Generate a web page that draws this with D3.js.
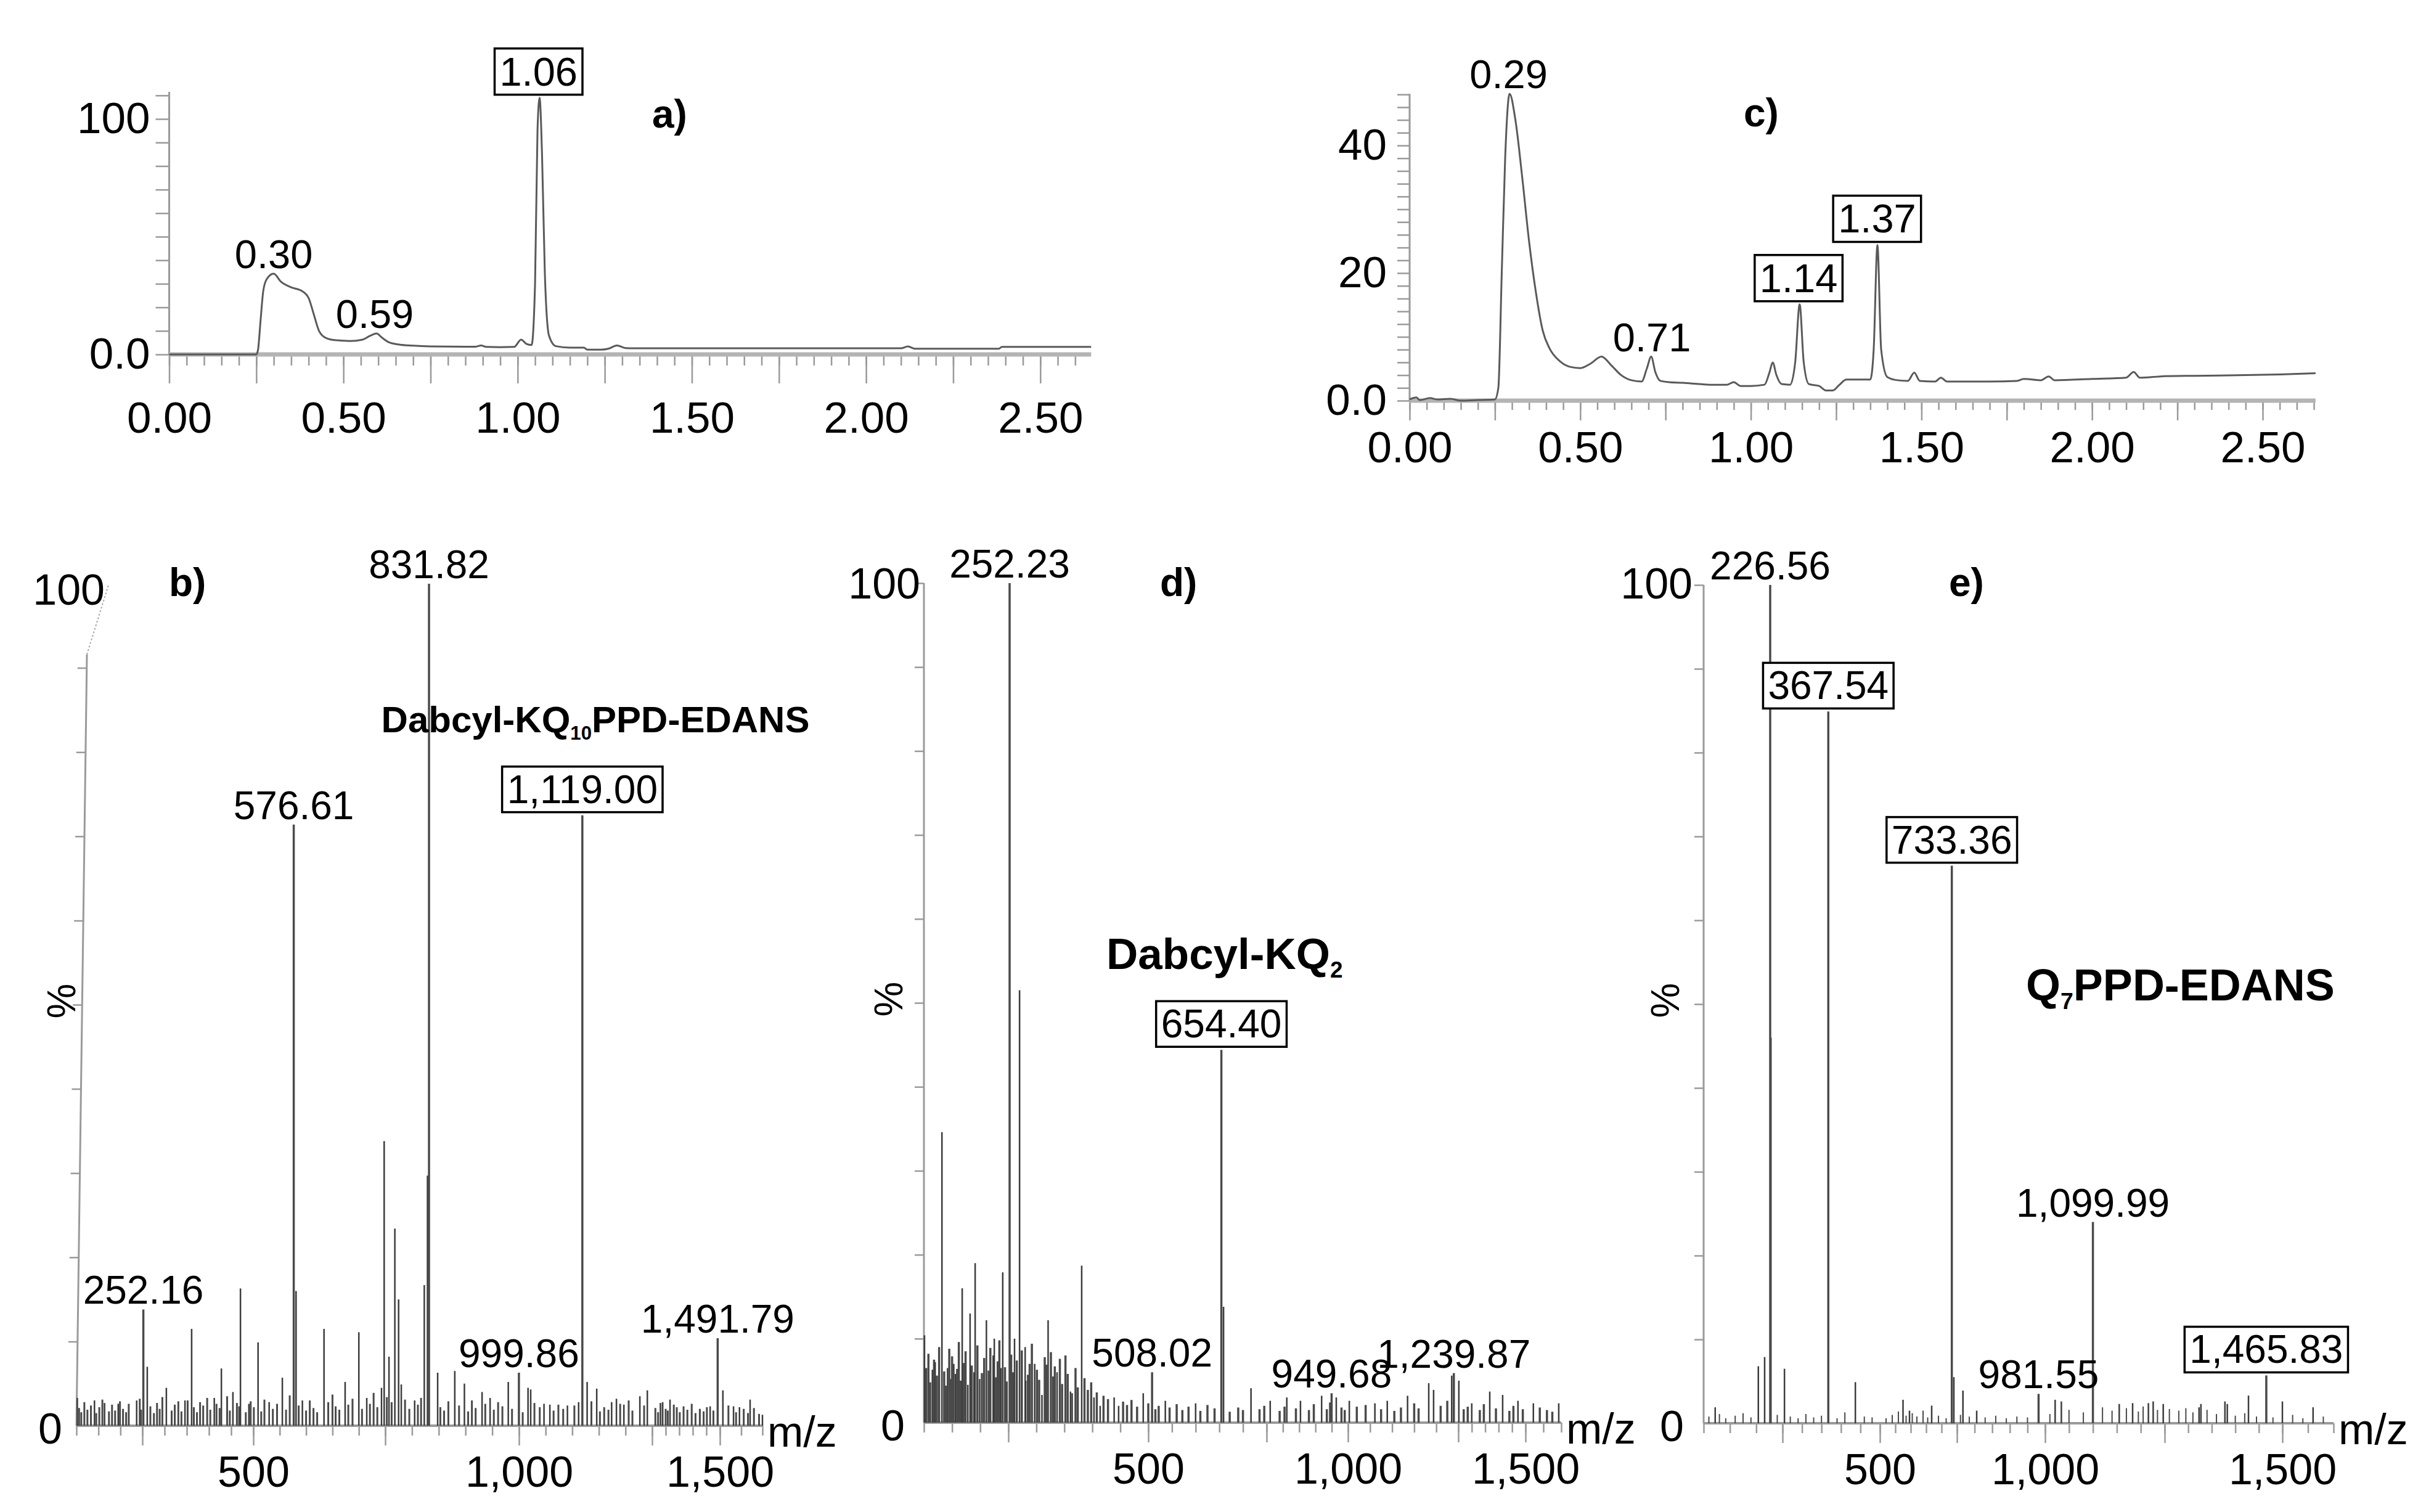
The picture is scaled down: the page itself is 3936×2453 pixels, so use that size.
<!DOCTYPE html>
<html><head><meta charset="utf-8">
<script src="https://cdn.jsdelivr.net/npm/d3@7/dist/d3.min.js"></script>
<style>html,body{margin:0;padding:0;background:#fff;} svg{display:block;}</style>
</head><body>
<script>
// ================= DATA =================
// Panel a) chromatogram (time, min ; intensity)
const aTimes=[0,0.25,0.255,0.262,0.27,0.28,0.30,0.32,0.35,0.38,0.40,0.415,0.43,0.45,0.48,0.52,0.555,0.575,0.595,0.61,0.63,0.66,0.70,0.75,0.85,0.88,0.895,0.91,0.95,0.99,1.01,1.025,1.04,1.05,1.057,1.063,1.07,1.078,1.09,1.11,1.15,1.19,1.2,1.24,1.26,1.285,1.31,1.33,1.6,2.1,2.12,2.14,2.38,2.39,2.646];
const aValues=[0,0,2,14,27,32,34.3,31,28.5,27,24,17,10,7,6,5.7,6.3,7.8,8.9,7.2,5.2,4.2,3.7,3.4,3.3,3.3,3.8,3.2,3.1,3.2,6.3,4.5,4,30,95,109,85,35,8,3.5,2.9,2.9,2.0,2.0,2.4,3.8,2.7,2.6,2.6,2.6,3.4,2.4,2.4,3.2,3.2];
const aLabelTimes=[0.30,0.59,1.06];
const aLabelValues=[34.3,8.9,109];
const aLabelTexts=["0.30","0.59","1.06"];
const aLabelBoxed=[false,false,true];
const aYLabelValues=[0,100];
const aYLabelTexts=["0.0","100"];

// Panel c) chromatogram
const cTimes=[0,0.02,0.03,0.06,0.08,0.12,0.15,0.2,0.25,0.26,0.27,0.28,0.293,0.31,0.33,0.35,0.37,0.39,0.41,0.44,0.47,0.50,0.53,0.5625,0.59,0.62,0.65,0.68,0.695,0.708,0.72,0.735,0.76,0.80,0.85,0.88,0.93,0.95,0.97,1.00,1.04,1.055,1.064,1.075,1.09,1.115,1.13,1.143,1.155,1.17,1.20,1.22,1.24,1.26,1.28,1.35,1.36,1.371,1.382,1.40,1.43,1.46,1.479,1.495,1.54,1.557,1.575,1.70,1.78,1.80,1.85,1.873,1.89,2.0,2.10,2.122,2.14,2.2,2.3,2.45,2.55,2.655];
const cValues=[0.2,0.5,0.1,0.4,0.2,0.3,0,0.1,0.2,2,20,38,48.1,44,35,25,17,11,8.2,6.2,5.3,5.1,5.8,6.9,5.6,4.0,3.2,3.0,5.0,6.9,4.5,3.1,2.9,2.8,2.6,2.5,2.5,2.9,2.3,2.3,2.5,4.5,6.0,4.0,2.6,2.5,6,15.1,6,2.6,2.3,1.6,1.6,2.5,3.3,3.3,8,24.4,8,3.7,3.2,3.1,4.4,3.1,3.0,3.6,3.0,3.0,3.1,3.4,3.2,3.8,3.2,3.4,3.6,4.5,3.6,3.8,3.9,4.0,4.1,4.3];
const cLabelTimes=[0.29,0.71,1.14,1.37];
const cLabelValues=[48.1,6.9,15.1,24.4];
const cLabelTexts=["0.29","0.71","1.14","1.37"];
const cLabelBoxed=[false,false,true,true];
const cYLabelValues=[0,20,40];
const cYLabelTexts=["0.0","20","40"];

const chromXTickLabels=[0,0.5,1.0,1.5,2.0,2.5];

// Panel b) mass spectrum
const bPeakMz=[102,141,164,195,237,261,304,346,361,412,428,454,471,490,509,530,555,581,593,634,674,700,715,743,748,757,768,775,780,805,823,829,848,880,898,931,946,980,1017,1022,1047,1058,1091,1112,1128,1146,1174,1183,1197,1227,1241,1289,1316,1464,1507,1532,1546,1571,1600];
const bPeakPct=[3.3,3.0,2.7,2.6,3.0,7.0,4.5,3.0,11.5,3.3,6.8,4.0,16.3,2.6,9.9,2.8,5.7,16.0,3.0,11.5,5.2,11.1,3.3,4.5,33.8,8.2,23.4,15.0,4.9,3.0,16.7,29.7,6.3,6.5,5.0,4.0,3.3,5.2,4.5,4.3,2.6,2.5,2.4,2.8,5.2,4.4,2.8,3.2,2.5,3.5,4.2,2.8,3.1,2.3,4.2,2.3,2.2,3.1,1.3];
const bNoiseMz=[106,111,118,125,133,145,152,159,174,181,188,199,206,213,219,244,247,268,276,283,289,295,316,323,331,338,352,366,373,380,387,396,403,417,424,441,447,463,468,483,494,501,515,521,537,545,562,569,586,600,607,614,621,642,650,656,663,680,688,706,721,728,735,753,762,787,795,811,817,853,860,868,888,905,912,919,937,953,961,969,987,1007,1029,1039,1065,1074,1083,1104,1136,1152,1160,1168,1190,1206,1213,1235,1262,1272,1281,1300,1308,1330,1341,1352,1366,1380,1396,1410,1426,1440,1452,1476,1520,1538,1556,1566,1580,1592];
const bNoisePct=[2.1,1.6,2.8,1.9,2.4,1.5,2.2,3.1,1.7,2.5,1.8,2.9,2.0,1.6,2.6,3.2,1.9,2.3,1.5,2.7,2.0,3.4,1.8,2.5,2.9,1.7,3.0,2.2,1.6,2.8,2.4,3.3,1.9,2.6,2.1,3.5,1.8,2.7,2.3,1.6,2.9,2.2,1.7,3.1,2.0,2.6,1.9,3.6,2.4,1.8,3.0,2.1,1.6,2.8,3.7,2.3,1.9,2.5,3.2,2.0,2.6,3.9,2.2,3.4,2.8,3.1,2.0,2.5,3.3,2.2,1.8,2.9,2.4,1.7,3.0,2.1,2.6,1.9,2.8,2.3,2.0,1.6,2.7,2.2,1.8,2.5,2.0,2.4,2.9,1.7,2.2,1.9,2.6,3.0,1.8,2.4,2.1,1.6,2.7,2.0,1.8,2.5,2.2,1.6,2.3,1.9,2.6,1.5,2.0,1.7,2.2,1.8,2.4,1.6,2.0,1.5,2.1,1.4];
const bLabelMz=[252.16,576.61,831.82,999.86,1119.00,1491.79];
const bLabelPct=[13.8,71.4,100,6.3,72.5,10.4];
const bLabelTexts=["252.16","576.61","831.82","999.86","1,119.00","1,491.79"];
const bLabelBoxed=[false,false,false,false,true,false];
const bCompound=["Dabcyl-KQ","10","PPD-EDANS"];

// Panel d) mass spectrum
const dPeakMz=[101,115,120,132,142,153,156,168,178,182,189,191,199,211,223,225,237,240,261,270,280,281,297,310,321,337,361,364,381,403,414,439,447,491,536,600,659,717,761,812,854,919,964,1003,1061,1089,1135,1183,1194,1235,1252,1300,1367,1415,1472,1522,1593];
const dPeakPct=[10.4,6.3,7.2,34.6,6.5,7.0,5.8,16.0,4.5,13.0,6.0,19.0,5.2,12.2,8.0,10.0,6.5,17.9,10.0,51.5,9.0,5.0,7.0,3.3,12.2,6.0,3.7,3.5,18.7,3.0,2.0,3.0,2.0,3.5,2.6,2.3,13.8,4.1,2.6,3.0,2.6,3.2,3.0,2.6,2.3,2.6,3.2,4.7,3.9,5.6,5.0,2.3,3.7,3.3,2.6,2.3,2.3];
const dNoiseMz=[104,108,111,118,123,127,136,139,145,148,150,159,162,165,171,174,185,195,203,207,215,218,228,231,234,244,247,255,258,265,274,285,288,292,301,305,315,318,326,330,333,342,346,352,356,370,374,386,392,398,408,420,428,455,462,470,480,500,515,522,545,560,572,585,610,625,640,672,690,700,735,745,790,805,840,880,895,935,945,980,990,1020,1040,1075,1105,1120,1150,1160,1210,1225,1270,1285,1330,1345,1390,1440,1455,1490,1540,1560,1575];
const dNoisePct=[6.5,8.2,4.8,7.5,5.6,9.0,6.1,4.4,8.8,5.2,7.9,6.4,9.6,5.0,7.1,8.5,6.8,9.2,5.9,7.7,6.2,8.9,5.4,7.3,9.8,6.6,4.9,8.1,6.0,7.4,8.6,5.7,7.0,9.4,6.3,5.1,7.8,6.9,8.4,5.5,6.7,7.6,4.6,8.0,5.8,6.5,4.2,5.3,3.9,4.8,3.6,3.2,2.8,2.5,2.1,2.7,1.9,2.3,1.6,2.0,1.8,2.2,1.5,1.9,1.4,2.1,1.7,1.3,1.8,1.5,1.6,2.0,1.4,1.9,1.7,1.5,2.2,1.6,2.4,1.8,1.5,1.9,2.1,1.6,1.4,1.8,2.3,1.7,2.0,2.6,1.6,1.9,1.5,2.2,1.7,1.4,2.0,1.6,1.8,1.5,1.3];
const dLabelMz=[252.23,508.02,654.40,949.68,1239.87];
const dLabelPct=[100,6.0,44.4,3.5,5.9];
const dLabelTexts=["252.23","508.02","654.40","949.68","1,239.87"];
const dLabelBoxed=[false,false,true,false,false];
const dCompound=["Dabcyl-KQ","2",""];

// Panel e) mass spectrum
const ePeakMz=[122,204,216,228,255,437,575,596,668,740,767,806,1021,1034,1155,1183,1216,1226,1247,1323,1327,1378,1383,1428,1500,1560];
const ePeakPct=[1.9,6.8,7.9,46,6.5,4.9,2.8,1.5,2.1,5.5,3.9,1.5,2.8,2.6,2.3,2.4,2.4,2.6,2.3,1.9,2.3,2.6,2.3,3.3,2.6,1.9];
const eNoiseMz=[110,130,142,160,175,190,240,270,290,310,330,350,390,410,460,480,520,540,560,585,605,620,640,655,690,715,760,785,830,860,890,920,950,1010,1050,1080,1120,1140,1170,1195,1205,1235,1260,1280,1295,1310,1340,1360,1400,1420,1445,1480,1520,1540,1580];
const eNoisePct=[0.8,1.1,0.6,0.9,1.2,0.7,1.0,0.8,0.6,1.1,0.7,0.9,0.6,1.3,0.8,0.7,0.6,1.0,1.4,0.9,1.2,0.8,1.5,0.7,0.9,0.6,1.0,0.8,0.7,0.9,0.6,0.8,0.7,1.1,1.6,1.3,1.9,1.5,1.8,1.4,2.0,1.6,1.7,1.5,1.8,1.3,1.6,1.1,0.9,1.2,0.8,0.7,1.0,0.6,0.8];
const eLabelMz=[226.56,367.54,733.36,981.55,1099.99,1465.83];
const eLabelPct=[100,84.9,66.5,3.5,24.0,5.7];
const eLabelTexts=["226.56","367.54","733.36","981.55","1,099.99","1,465.83"];
const eLabelBoxed=[false,true,true,false,false,true];
const eCompound=["Q","7","PPD-EDANS"];

// Spectrum axis tick values (m/z)
const specAxisMz=[100,250,500,750,1000,1250,1500,1600];
const specMajorTicks=[250,500,750,1000,1250,1500];
const specTickLabels=[500,1000,1500];

// ================= DRAWING =================
const FONT='"Liberation Sans", Arial, Helvetica, sans-serif';
const svg=d3.select('body').append('svg').attr('width',3936).attr('height',2453)
  .style('background','#fff').attr('font-family',FONT);

const AXIS_COL='#9a9a9a';

function labelPeak(g,xp,yp,txt,boxed,size){
  const lg=g.append('g');
  if(boxed){
    const rect=lg.append('rect');
    const t=lg.append('text').attr('x',xp).attr('y',yp-20).attr('text-anchor','middle')
      .attr('font-size',size).attr('fill','#000').text(txt);
    const bb=t.node().getBBox();
    rect.attr('x',bb.x-8).attr('y',bb.y-1).attr('width',bb.width+16).attr('height',bb.height+2)
      .attr('fill','#fff').attr('stroke','#000').attr('stroke-width',3.5);
  } else {
    lg.append('text').attr('x',xp).attr('y',yp-9).attr('text-anchor','middle')
      .attr('font-size',size).attr('fill','#000').text(txt);
  }
}

function drawChrom(L,times,values,labT,labV,labTxt,labBox,yLabVals,yLabTxt){
  const x=d3.scaleLinear().domain([0,2.5]).range([L.x0,L.x25]);
  const y=d3.scaleLinear().domain([0,L.refV]).range([L.yBase,L.yRef]);
  const g=svg.append('g');
  const minor=d3.range(0,L.tEnd+1e-9,0.05);
  const gx1=g.append('g').attr('transform',`translate(0,${L.yBase})`)
    .call(d3.axisBottom(x).tickValues(minor).tickSize(L.minorLen).tickSizeOuter(0).tickFormat(''));
  gx1.select('.domain').remove();
  gx1.selectAll('line').attr('stroke',AXIS_COL).attr('stroke-width',2.5);
  const major=d3.range(0,L.tEnd+1e-9,0.25);
  const gx2=g.append('g').attr('transform',`translate(0,${L.yBase})`)
    .call(d3.axisBottom(x).tickValues(major).tickSize(L.majorLen).tickPadding(L.xPad).tickSizeOuter(0)
      .tickFormat(d=>chromXTickLabels.some(v=>Math.abs(v-d)<1e-6)?d3.format('.2f')(d):''));
  gx2.select('.domain').remove();
  gx2.selectAll('line').attr('stroke',AXIS_COL).attr('stroke-width',2.5);
  gx2.attr('font-size',71).attr('font-family',FONT);
  gx2.selectAll('text').attr('fill','#000');
  const yt=d3.range(0,L.vTop+1e-9,L.yStep);
  const gy=g.append('g').attr('transform',`translate(${L.x0},0)`)
    .call(d3.axisLeft(y).tickValues(yt).tickSize(L.yTickLen).tickPadding(L.yPad).tickSizeOuter(0)
      .tickFormat(d=>{const i=yLabVals.indexOf(d);return i>=0?yLabTxt[i]:'';}));
  gy.select('.domain').remove();
  gy.selectAll('line').attr('stroke',AXIS_COL).attr('stroke-width',2.5);
  gy.attr('font-size',71).attr('font-family',FONT);
  gy.selectAll('text').attr('fill','#000');
  g.append('line').attr('x1',x(0)).attr('x2',x(0)).attr('y1',y(0)).attr('y2',y(L.vTop))
    .attr('stroke',AXIS_COL).attr('stroke-width',3);
  g.append('line').attr('x1',x(0)).attr('x2',x(L.tEnd)).attr('y1',y(0)).attr('y2',y(0))
    .attr('stroke','#b4b4b4').attr('stroke-width',7);
  const line=d3.line().x(d=>x(d[0])).y(d=>y(d[1])).curve(d3.curveMonotoneX);
  g.append('path').datum(d3.zip(times,values)).attr('d',line)
    .attr('fill','none').attr('stroke','#5a5a5a').attr('stroke-width',3);
  labT.forEach((t,i)=>labelPeak(g,x(t),y(labV[i]),labTxt[i],labBox[i],65));
  g.append('text').attr('x',L.letterX).attr('y',L.letterY).attr('font-size',64).attr('font-weight','bold')
    .attr('fill','#000').text(L.letter);
}

drawChrom({x0:274.5,x25:1687.8,tEnd:2.646,yBase:575,yRef:193,refV:100,vTop:111.5,yStep:10,
  minorLen:18,majorLen:47,xPad:30,yTickLen:22,yPad:9,letter:'a)',letterX:1058,letterY:207},
  aTimes,aValues,aLabelTimes,aLabelValues,aLabelTexts,aLabelBoxed,aYLabelValues,aYLabelTexts);

drawChrom({x0:2287,x25:3671,tEnd:2.655,yBase:650,yRef:236,refV:40,vTop:48.1,yStep:2,
  minorLen:15,majorLen:32,xPad:18,yTickLen:20,yPad:17,letter:'c)',letterX:2829,letterY:205},
  cTimes,cValues,cLabelTimes,cLabelValues,cLabelTexts,cLabelBoxed,cYLabelValues,cYLabelTexts);

function drawSpectrum(L,D){
  const x=d3.scaleLinear().domain(specAxisMz).range(L.px);
  const y=d3.scaleLinear().domain([0,100]).range([L.yBase,L.y100]);
  const g=svg.append('g');
  const x0=x(specAxisMz[0]), xEnd=x(specAxisMz[specAxisMz.length-1]);
  const minor=d3.range(100,1601,50);
  const gx1=g.append('g').attr('transform',`translate(0,${L.yBase})`)
    .call(d3.axisBottom(x).tickValues(minor).tickSize(16).tickSizeOuter(0).tickFormat(''));
  gx1.select('.domain').remove();
  gx1.selectAll('line').attr('stroke',AXIS_COL).attr('stroke-width',2.5);
  const gx2=g.append('g').attr('transform',`translate(0,${L.yBase})`)
    .call(d3.axisBottom(x).tickValues(specMajorTicks).tickSize(32).tickPadding(17).tickSizeOuter(0)
      .tickFormat(d=>specTickLabels.includes(d)?d3.format(',')(d):''));
  gx2.select('.domain').remove();
  gx2.selectAll('line').attr('stroke',AXIS_COL).attr('stroke-width',2.5);
  gx2.attr('font-size',70).attr('font-family',FONT);
  gx2.selectAll('text').attr('fill','#000');
  const gy=g.append('g').attr('transform',`translate(${x0},${L.yBase}) skewX(${L.skew}) translate(0,${-L.yBase})`);
  gy.call(d3.axisLeft(y).tickValues(L.yTicks).tickSize(15).tickSizeOuter(0).tickFormat(''));
  gy.select('.domain').remove();
  gy.selectAll('line').attr('stroke',AXIS_COL).attr('stroke-width',2.5);
  gy.append('line').attr('x1',0).attr('x2',0).attr('y1',y(0)).attr('y2',y(L.axisTop))
    .attr('stroke',AXIS_COL).attr('stroke-width',3);
  if(L.diag){
    const topShift=Math.tan(L.skew*Math.PI/180)*(y(L.axisTop)-L.yBase);
    g.append('line').attr('x1',x0+topShift).attr('y1',y(L.axisTop)).attr('x2',x0+L.diag).attr('y2',y(100)+2)
      .attr('stroke','#aaa').attr('stroke-width',2).attr('stroke-dasharray','3,3');
  }
  g.append('line').attr('x1',x0).attr('x2',xEnd).attr('y1',y(0)).attr('y2',y(0))
    .attr('stroke',AXIS_COL).attr('stroke-width',4);
  g.append('g').selectAll('line').data(d3.zip(D.noiseMz,D.noisePct)).join('line')
    .attr('x1',d=>x(d[0])).attr('x2',d=>x(d[0])).attr('y1',y(0)).attr('y2',d=>y(d[1]))
    .attr('stroke','#4a4a4a').attr('stroke-width',L.noiseW);
  g.append('g').selectAll('line').data(d3.zip(D.peakMz,D.peakPct)).join('line')
    .attr('x1',d=>x(d[0])).attr('x2',d=>x(d[0])).attr('y1',y(0)).attr('y2',d=>y(d[1]))
    .attr('stroke','#3c3c3c').attr('stroke-width',2.5);
  g.append('g').selectAll('line').data(d3.zip(D.labMz,D.labPct)).join('line')
    .attr('x1',d=>x(d[0])).attr('x2',d=>x(d[0])).attr('y1',y(0)).attr('y2',d=>y(d[1]))
    .attr('stroke','#4a4a4a').attr('stroke-width',3.5);
  D.labMz.forEach((m,i)=>labelPeak(g,x(m),y(D.labPct[i]),D.labTxt[i],D.labBox[i],64));
  g.append('text').attr('x',x0+L.lab100dx).attr('y',y(100)+L.lab100dy+25).attr('text-anchor','end')
    .attr('font-size',70).attr('fill','#000').text('100');
  g.append('text').attr('x',x0+L.lab0dx).attr('y',y(0)+4+25).attr('text-anchor','end')
    .attr('font-size',70).attr('fill','#000').text('0');
  g.append('text').attr('transform',`translate(${x0+L.pctDx},${y(50)-6}) rotate(-90)`)
    .attr('text-anchor','middle').attr('dy','0.36em').attr('font-size',64).attr('fill','#000').text('%');
  g.append('text').attr('x',xEnd+8).attr('y',y(0)+34).attr('font-size',70).attr('fill','#000').text('m/z');
  g.append('text').attr('x',L.letterX).attr('y',L.letterY).attr('font-size',64).attr('font-weight','bold')
    .attr('fill','#000').text(L.letter);
  const F=L.compSize;
  const ct=g.append('text').attr('x',L.compX).attr('y',L.compY).attr('text-anchor',L.compAnchor)
    .attr('font-size',F).attr('font-weight','bold').attr('fill','#000');
  ct.append('tspan').text(D.compound[0]);
  ct.append('tspan').attr('font-size',F*0.52).attr('dy',F*0.2).text(D.compound[1]);
  if(D.compound[2]) ct.append('tspan').attr('font-size',F).attr('dy',-F*0.2).text(D.compound[2]);
}

drawSpectrum({px:[124,231,411,625,842,1058,1168,1237],yBase:2313,y100:947,skew:-0.779,axisTop:91.6,
  yTicks:[10,20,30,40,50,60,70,80,90],diag:52,lab100dx:46,lab100dy:9,lab0dx:-23,pctDx:-25,noiseW:3,
  letter:'b)',letterX:274,letterY:967,compSize:60,compX:966,compY:1188,compAnchor:'middle'},
  {peakMz:bPeakMz,peakPct:bPeakPct,noiseMz:bNoiseMz,noisePct:bNoisePct,labMz:bLabelMz,labPct:bLabelPct,
   labTxt:bLabelTexts,labBox:bLabelBoxed,compound:bCompound});

drawSpectrum({px:[1499,1636,1863,2055,2187,2366,2475,2533],yBase:2308,y100:946,skew:0,axisTop:100,
  yTicks:[10,20,30,40,50,60,70,80,90,100],diag:0,lab100dx:-6,lab100dy:0,lab0dx:-31,pctDx:-58,noiseW:3.5,
  letter:'d)',letterX:1882,letterY:967,compSize:71,compX:1795,compY:1572,compAnchor:'start'},
  {peakMz:dPeakMz,peakPct:dPeakPct,noiseMz:dNoiseMz,noisePct:dNoisePct,labMz:dLabelMz,labPct:dLabelPct,
   labTxt:dLabelTexts,labBox:dLabelBoxed,compound:dCompound});

drawSpectrum({px:[2764,2892,3050,3175,3318,3512,3703,3786],yBase:2309,y100:949,skew:0,axisTop:100,
  yTicks:[10,20,30,40,50,60,70,80,90,100],diag:0,lab100dx:-18,lab100dy:-3,lab0dx:-32,pctDx:-63,noiseW:2,
  letter:'e)',letterX:3162,letterY:967,compSize:72,compX:3287,compY:1623,compAnchor:'start'},
  {peakMz:ePeakMz,peakPct:ePeakPct,noiseMz:eNoiseMz,noisePct:eNoisePct,labMz:eLabelMz,labPct:eLabelPct,
   labTxt:eLabelTexts,labBox:eLabelBoxed,compound:eCompound});
</script>
</body></html>
